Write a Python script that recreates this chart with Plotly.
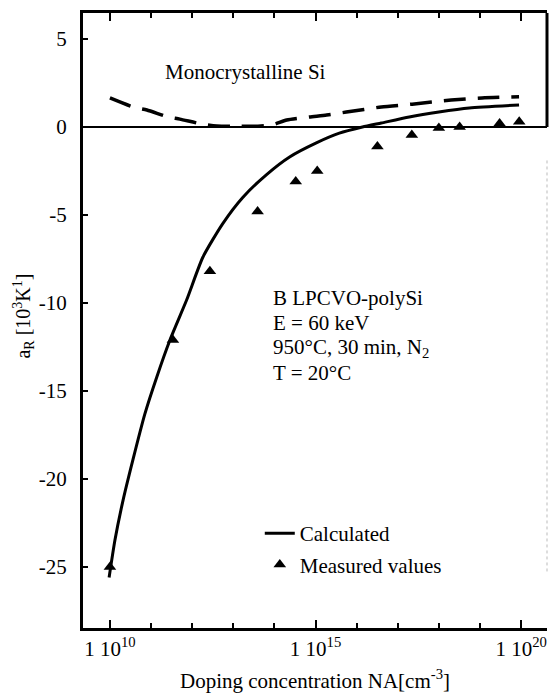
import plotly.graph_objects as go

# ---- data ----
calc_logx = [9.98, 10.12, 10.32, 10.56, 10.85, 11.14, 11.46, 11.87, 12.26, 12.74, 13.23,
             13.81, 14.37, 15.02, 15.58, 16.14, 16.6, 17.28, 18.0, 18.74, 19.95]
calc_y = [-25.6, -23.5, -21.2, -18.9, -16.3, -14.2, -12.1, -9.8, -7.4, -5.5, -4.0,
          -2.7, -1.7, -0.9, -0.35, 0.0, 0.23, 0.57, 0.85, 1.08, 1.25]
calc_x = [10**v for v in calc_logx]

mono_logx = [10.0, 10.56, 10.9, 11.41, 11.7, 12.23, 12.6, 13.16, 13.6, 13.95,
             14.3, 14.85, 15.27, 15.75, 16.6, 17.35, 18.3, 19.05, 19.95]
mono_y = [1.65, 1.14, 0.97, 0.57, 0.45, 0.17, 0.06, 0.04, 0.05, 0.12,
          0.4, 0.57, 0.68, 0.85, 1.14, 1.3, 1.53, 1.65, 1.72]
mono_x = [10**v for v in mono_logx]

meas_x = [1e10, 3.4e11, 2.7e12, 3.9e13, 3.3e14, 1.1e15, 3.2e16, 2.2e17, 1e18, 3.2e18, 3e19, 9e19]
meas_y = [-25.0, -12.1, -8.2, -4.8, -3.1, -2.5, -1.1, -0.45, -0.05, 0.0, 0.2, 0.3]

x_tickvals = [1e10, 1e15, 1e20]
x_ticktext = ["1 10<sup>10</sup>", "1 10<sup>15</sup>", "1 10<sup>20</sup>"]
x_minor = [10**k for k in range(11, 20) if k != 15]
y_tickvals = [5, 0, -5, -10, -15, -20, -25]
y_ticktext = ["5", "0", "-5", "-10", "-15", "-20", "-25"]

cond_lines = ["B LPCVO-polySi", "E = 60 keV", "950°C, 30 min, N<sub>2</sub>", "T = 20°C"]

FONT = "Times New Roman, Liberation Serif, DejaVu Serif, serif"

def f(size=21):
    return dict(family=FONT, size=size, color="black")

fig = go.Figure()
fig.add_trace(go.Scatter(x=mono_x, y=mono_y, mode="lines", showlegend=False,
                         line=dict(color="black", width=3.5, dash="22px,12px",
                                   shape="spline", smoothing=0.6)))
fig.add_trace(go.Scatter(x=calc_x, y=calc_y, mode="lines", name="Calculated",
                         legendgroup="a",
                         line=dict(color="black", width=3, shape="spline", smoothing=0.6)))
fig.add_trace(go.Scatter(x=meas_x, y=meas_y, mode="markers", name="Measured values",
                         legendgroup="b",
                         marker=dict(symbol="triangle-up", size=11, color="black")))

fig.update_layout(
    width=549, height=693,
    margin=dict(l=83, r=2, t=13, b=65),
    paper_bgcolor="white", plot_bgcolor="white",
    font=f(21),
    legend=dict(x=0.381, y=0.187, xanchor="left", yanchor="top",
                bgcolor="rgba(0,0,0,0)", traceorder="grouped", tracegroupgap=1,
                font=f(21)),
    xaxis=dict(type="log", range=[9.345, 20.63], tickvals=x_tickvals, ticktext=x_ticktext,
               tickfont=f(21),
               ticks="inside", ticklen=8, tickwidth=2, tickcolor="black",
               showline=True, linewidth=3, linecolor="black", mirror="ticks",
               showgrid=False, zeroline=False,
               minor=dict(tickvals=x_minor, ticks="inside", ticklen=5, tickwidth=1.5, tickcolor="black"),
               title=dict(text="Doping concentration NA[cm<sup>-3</sup>]", standoff=15,
                          font=f(21))),
    yaxis=dict(range=[-28.47, 6.48], tickvals=y_tickvals, ticktext=y_ticktext,
               tickfont=f(21),
               ticks="inside", ticklen=5, tickwidth=2, tickcolor="black",
               showline=True, linewidth=3, linecolor="black", mirror=False,
               showgrid=False, zeroline=True, zerolinecolor="black", zerolinewidth=2,
               ticklabelstandoff=9),
)

# partial right border
fig.add_shape(type="line", xref="paper", yref="y", x0=1, x1=1, y0=0, y1=6.48,
              line=dict(color="black", width=3))
fig.add_shape(type="line", xref="paper", yref="y", x0=1, x1=1, y0=-1.9, y1=-25.3,
              line=dict(color="#bbbbbb", width=1, dash="dot"))

# y title
fig.add_annotation(xref="paper", yref="paper", x=-0.128, y=(628 - 316) / 615,
                   text="a<sub>R</sub> [10<sup>3</sup>K<sup>1</sup>]", textangle=-90,
                   showarrow=False, font=f(20), xanchor="center", yanchor="middle")

# conditions text, one line each (25 px apart)
for i, line in enumerate(cond_lines):
    fig.add_annotation(xref="paper", yref="paper", x=(271 - 83) / 465,
                       y=(628 - (298 + 25 * i)) / 615,
                       text=line, showarrow=False, align="left",
                       xanchor="left", yanchor="middle", font=f(21))

# Monocrystalline label with pointer
fig.add_annotation(x=10**10.95, y=0.85, ax=182, ay=85, axref="pixel", ayref="pixel",
                   text="", showarrow=True, arrowhead=0, arrowwidth=2.5, arrowcolor="black")
fig.add_annotation(xref="paper", yref="paper", x=(246 - 83) / 465, y=(628 - 72) / 615,
                   text="Monocrystalline Si", showarrow=False, font=f(21),
                   xanchor="center", yanchor="middle")

fig.write_html("out.html")
